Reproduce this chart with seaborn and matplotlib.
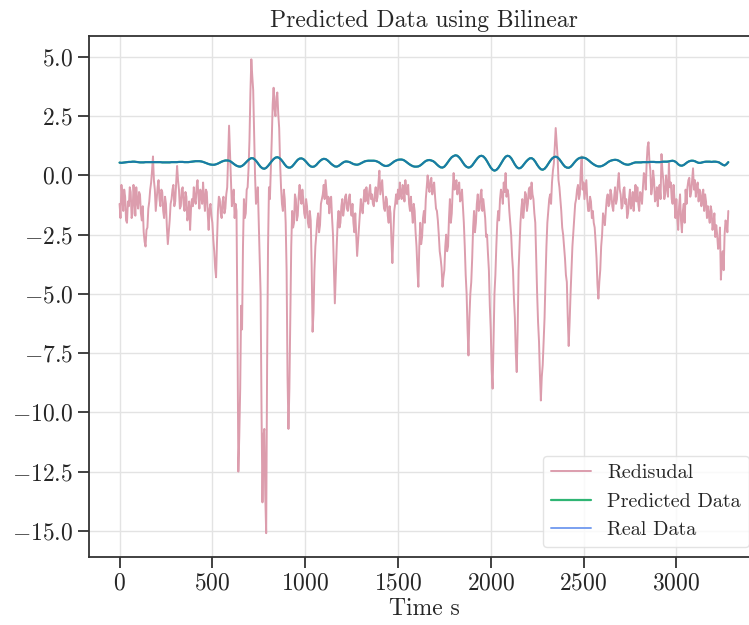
import numpy as np
import pandas as pd
import seaborn as sns
import matplotlib.pyplot as plt

# residual (real - predicted) at t = 0, 10, 20, ...
residual = [
    -1.2, -0.4, -1.5, -0.9, -2.0, -1.3, -0.7, -1.6, -1.0, -0.5,
    -1.4, -0.8, -1.9, -2.4, -3.0, -2.2, -1.1, -0.3, 0.8, -0.6,
    -1.0, -0.2, -1.3, -0.7, -1.8, -1.2, -2.9, -1.9, -1.0, -0.4,
    -1.1, 0.4, -0.6, -1.3, -0.5, -1.5, -0.9, -1.7, -2.3, -1.0,
    -0.5, -1.2, -0.2, -1.4, -0.8, -0.3, -1.5, -0.7, -2.3, -1.2,
    -2.0, -3.2, -4.3, -1.5, -1.0, -1.8, -0.9, -1.4, -0.5, 2.1,
    0.0, -1.0, -1.8, -1.5, -12.5, -9.0, -6.5, -1.0, -1.6, -0.5,
    1.5, 4.9, 3.6, 0.0, -1.0, -2.0, -5.0, -13.8, -10.7, -15.1,
    -3.0, -1.0, 1.5, 3.7, 2.5, 3.5, 2.0, -0.5, -1.5, -1.0,
    -4.0, -10.7, -6.0, -1.5, -2.0, -1.0, -1.7, -0.4, -1.2, -1.0,
    -1.8, -1.3, -2.2, -1.9, -6.6, -4.0, -2.5, -1.6, -2.1, -1.0,
    -0.4, -0.2, -1.2, -1.6, -0.9, -2.5, -5.4, -3.0, -1.5, -2.0,
    -1.0, -1.4, -0.8, -1.5, -0.8, -1.7, -2.0, -1.6, -3.4, -2.2,
    -1.0, -1.6, -0.6, -0.5, -1.2, -0.4, -0.8, -1.3, -0.5, -0.9,
    0.2, -0.5, -0.9, -1.5, -1.0, -2.0, -1.6, -3.7, -1.5, -0.8,
    -0.6, -0.3, -1.0, -0.5, -0.2, -0.8, -1.2, -0.9, -2.0, -1.5,
    -3.0, -4.7, -2.0, -2.6, -1.5, -1.0, 0.0, -0.7, -0.1, -0.5,
    -0.9, -1.5, -2.5, -3.5, -4.7, -4.0, -2.5, -3.0, -1.0, -1.6,
    0.1, -0.5, -0.8, -0.3, -1.0, -1.3, -3.0, -5.0, -7.6, -5.0,
    -3.5, -1.5, -2.0, -0.8, -1.4, -0.6, -1.0, -1.8, -2.5, -4.0,
    -6.5, -9.0, -5.0, -3.0, -1.5, -1.0, -0.8, -0.3, 0.1, -0.6,
    -1.5, -2.5, -4.0, -6.0, -8.3, -4.0, -2.0, -1.0, -1.4, -0.8,
    -1.2, -0.5, -0.3, -1.0, -2.0, -5.0, -7.0, -9.5, -8.0, -6.0,
    -3.0, -1.5, -0.8, -0.3, 0.5, 2.0, 0.8, -0.5, -1.5, -2.5,
    -3.5, -4.5, -7.2, -5.0, -3.0, -1.8, -1.0, -0.4, -0.8, 0.8,
    -0.3, -0.6, -1.0, -1.5, -1.1, -1.5, -2.2, -3.5, -5.2, -4.0,
    -2.5, -1.8, -1.5, -0.8, -1.2, -0.8, -1.5, -0.5, -1.0, 0.1,
    -0.8, -1.3, -0.5, -1.0, -1.6, -0.6, -1.2, -1.5, -0.4, -0.5,
    -1.5, -0.8, -0.5, 0.0, 0.5, 1.4, 0.2, -0.5, -0.2, -1.0,
    -1.3, -0.4, 0.9, -0.2, -0.8, -0.5, 0.5, -0.3, -1.2, -1.0,
    -1.0, -2.3, -0.8, -2.4, -1.2, -0.6, -0.5, -0.1, -0.7, 0.3,
    -0.2, -0.5, -1.1, -0.7, -1.0, -1.5, -1.1, -1.3, -2.0, -1.5,
    -2.0, -2.6, -2.5, -3.0, -4.4, -3.2, -2.5, -2.0, -1.5,
]

# residual samples in between (t = 5, 15, 25, ...), the noisy band
residual_mid = [
    -1.8, -0.9, -0.6, -1.9, -1.1, -0.5, -1.8, -0.4, -1.7, -1.1,
    -0.7, -1.6, -1.3, -2.8, -2.3, -1.4, -0.6, 0.2, -0.2, -1.5,
    -0.5, -1.0, -0.6, -1.5, -0.9, -2.2, -2.4, -1.2, -0.6, -1.3,
    -0.3, -0.2, -1.4, -0.6, -1.2, -0.7, -1.9, -1.1, -1.4, -1.3,
    -1.0, -0.5, -0.9, -0.6, -1.2, -1.0, -0.6, -1.6, -1.4, -1.7,
    -2.7, -3.9, -2.8, -0.9, -1.6, -1.1, -1.6, -0.8, 0.8, 1.0,
    -1.3, -0.6, -1.2, -6.0, -11.0, -5.5, -3.0, -1.8, -0.6, 0.3,
    3.5, 4.2, 1.8, -1.2, -0.5, -3.5, -10.0, -11.0, -13.5, -8.0,
    -0.5, 0.2, 3.0, 2.8, 3.3, 2.6, 0.5, -1.2, -0.6, -2.0,
    -8.5, -9.0, -3.0, -2.2, -0.8, -1.9, -0.9, -1.0, -0.6, -1.6,
    -1.0, -2.0, -1.5, -3.8, -5.8, -3.0, -1.9, -2.4, -1.2, -0.8,
    -1.0, -0.7, -0.9, -1.0, -1.8, -4.0, -4.2, -2.0, -2.2, -1.3,
    -1.7, -0.9, -1.4, -1.0, -1.4, -1.2, -2.4, -2.5, -2.8, -1.6,
    -1.4, -1.0, -1.1, -0.9, -0.7, -1.0, -1.2, -0.8, -1.1, -0.3,
    -0.8, -0.2, -1.4, -0.9, -1.7, -1.3, -2.8, -2.5, -1.2, -1.2,
    -1.0, -0.8, -0.4, -1.1, -0.7, -0.4, -1.5, -1.5, -1.2, -2.4,
    -4.0, -3.0, -2.9, -1.8, -2.0, -0.5, -0.5, -0.2, -0.8, -0.3,
    -1.4, -1.9, -3.2, -3.9, -4.3, -3.0, -3.2, -1.8, -2.0, -0.6,
    -0.6, -0.2, -0.5, -1.1, -0.6, -2.0, -4.2, -6.5, -6.0, -4.5,
    -2.2, -2.4, -1.2, -1.5, -0.8, -1.5, -1.4, -2.6, -3.3, -5.5,
    -8.2, -7.0, -4.2, -2.0, -1.9, -0.6, -1.2, -0.7, -0.9, -0.8,
    -2.0, -3.4, -5.2, -7.5, -6.5, -3.0, -1.4, -1.8, -0.7, -1.5,
    -0.6, -1.0, -0.8, -1.6, -3.5, -6.2, -8.4, -8.5, -7.0, -4.4,
    -2.0, -1.0, -1.2, 0.2, 1.2, 1.4, -0.2, -1.0, -2.2, -3.0,
    -4.2, -6.0, -6.2, -4.0, -2.4, -1.2, -0.6, -1.0, 0.2, -0.6,
    -1.0, -0.2, -1.5, -0.9, -1.8, -2.0, -2.8, -4.6, -4.5, -3.0,
    -1.6, -2.1, -1.0, -1.3, -0.6, -1.3, -0.9, -1.2, -0.3, -0.6,
    -1.4, -0.6, -1.2, -1.8, -1.0, -1.4, -0.7, -0.8, -1.1, -1.2,
    -0.7, -1.2, 0.1, -0.6, 1.2, 0.6, -0.8, 0.2, -1.1, -0.5,
    -0.6, -1.0, 0.2, -1.0, 0.0, -0.9, -0.5, -1.0, -0.4, -1.8,
    -1.8, -1.3, -1.9, -1.5, -2.0, -1.2, -0.2, -0.9, -0.2, -0.6,
    -0.9, -0.3, -0.6, -1.3, -0.6, -0.8, -1.8, -1.7, -1.3, -2.3,
    -1.6, -2.1, -3.1, -2.2, -3.6, -4.0, -1.9, -2.4,
]

# predicted data at t = 0, 10, 20, ...
predicted = [
    0.54, 0.53, 0.54, 0.55, 0.56, 0.57, 0.57, 0.58, 0.58, 0.57,
    0.56, 0.55, 0.55, 0.55, 0.56, 0.56, 0.56, 0.56, 0.56, 0.56,
    0.56, 0.56, 0.56, 0.55, 0.55, 0.55, 0.55, 0.55, 0.56, 0.56,
    0.56, 0.56, 0.57, 0.57, 0.57, 0.56, 0.56, 0.56, 0.57, 0.58,
    0.59, 0.60, 0.60, 0.60, 0.59, 0.57, 0.54, 0.51, 0.48, 0.46,
    0.45, 0.45, 0.47, 0.50, 0.54, 0.58, 0.61, 0.63, 0.63, 0.62,
    0.58, 0.52, 0.46, 0.41, 0.38, 0.37, 0.40, 0.46, 0.54, 0.62,
    0.69, 0.73, 0.72, 0.66, 0.57, 0.46, 0.36, 0.30, 0.28, 0.32,
    0.40, 0.50, 0.60, 0.69, 0.75, 0.77, 0.74, 0.67, 0.57, 0.46,
    0.37, 0.33, 0.33, 0.38, 0.47, 0.57, 0.66, 0.71, 0.72, 0.69,
    0.62, 0.53, 0.44, 0.38, 0.36, 0.38, 0.44, 0.53, 0.61, 0.67,
    0.70, 0.69, 0.64, 0.57, 0.49, 0.43, 0.38, 0.37, 0.40, 0.46,
    0.52, 0.57, 0.59, 0.58, 0.56, 0.52, 0.48, 0.46, 0.45, 0.47,
    0.51, 0.55, 0.59, 0.61, 0.62, 0.62, 0.62, 0.62, 0.61, 0.58,
    0.54, 0.48, 0.43, 0.40, 0.40, 0.42, 0.47, 0.53, 0.59, 0.63,
    0.66, 0.67, 0.67, 0.65, 0.60, 0.54, 0.48, 0.43, 0.39, 0.37,
    0.37, 0.38, 0.42, 0.48, 0.55, 0.61, 0.64, 0.65, 0.63, 0.60,
    0.54, 0.46, 0.39, 0.34, 0.33, 0.37, 0.46, 0.57, 0.68, 0.77,
    0.82, 0.85, 0.83, 0.76, 0.66, 0.54, 0.43, 0.36, 0.33, 0.35,
    0.42, 0.53, 0.64, 0.74, 0.81, 0.83, 0.80, 0.72, 0.60, 0.46,
    0.33, 0.24, 0.20, 0.23, 0.31, 0.43, 0.56, 0.69, 0.79, 0.83,
    0.81, 0.73, 0.60, 0.46, 0.35, 0.30, 0.31, 0.38, 0.48, 0.58,
    0.66, 0.72, 0.73, 0.68, 0.58, 0.45, 0.34, 0.26, 0.24, 0.28,
    0.37, 0.49, 0.61, 0.71, 0.77, 0.79, 0.76, 0.68, 0.57, 0.46,
    0.37, 0.33, 0.32, 0.36, 0.44, 0.54, 0.63, 0.70, 0.74, 0.75,
    0.75, 0.73, 0.68, 0.62, 0.55, 0.49, 0.44, 0.40, 0.38, 0.38,
    0.40, 0.44, 0.49, 0.55, 0.60, 0.63, 0.65, 0.66, 0.65, 0.62,
    0.57, 0.52, 0.48, 0.46, 0.45, 0.47, 0.50, 0.53, 0.55, 0.55,
    0.55, 0.55, 0.56, 0.56, 0.56, 0.56, 0.57, 0.57, 0.57, 0.56,
    0.56, 0.56, 0.57, 0.58, 0.58, 0.58, 0.59, 0.61, 0.62, 0.60,
    0.55, 0.47, 0.42, 0.41, 0.44, 0.50, 0.56, 0.60, 0.62, 0.62,
    0.60, 0.56, 0.53, 0.53, 0.55, 0.57, 0.58, 0.58, 0.58, 0.57,
    0.58, 0.58, 0.57, 0.55, 0.50, 0.45, 0.42, 0.47, 0.56,
]

# the real-data trace sits right on top of the prediction in the picture
real_data = predicted

time_s = np.arange(len(predicted)) * 10

# residual on a 5 s grid: main samples interleaved with the in-between ones
res_full = []
for i, v in enumerate(residual):
    res_full.append(v)
    if i < len(residual_mid):
        res_full.append(residual_mid[i])
res_time = np.arange(len(res_full)) * 5

df_res = pd.DataFrame({"time": res_time, "res": res_full})
df = pd.DataFrame({"time": time_s, "pred": predicted, "real": real_data})

sns.set_theme(style="ticks")
plt.rcParams["font.family"] = "serif"
plt.rcParams["font.serif"] = ["cmr10", "DejaVu Serif"]
plt.rcParams["mathtext.fontset"] = "cm"
plt.rcParams["axes.formatter.use_mathtext"] = True

res_color = "#dc9dad"
pred_color = "#2fb574"
real_color = "#1a78aa"

fig = plt.figure(figsize=(7.49, 6.25), dpi=100)
ax = fig.add_axes([0.119, 0.109, 0.894, 0.834])

sns.lineplot(data=df_res, x="time", y="res", ax=ax, color=res_color,
             lw=1.4, label="Redisudal")
sns.lineplot(data=df, x="time", y="pred", ax=ax, color=pred_color,
             lw=1.6, label="Predicted Data")
sns.lineplot(data=df, x="time", y="real", ax=ax, color=real_color,
             lw=1.4, label="Real Data")

ax.grid(True, color="#e3e3e3", lw=1)
ax.set_axisbelow(True)
for sp in ax.spines.values():
    sp.set_visible(True)
    sp.set_color("#333333")
    sp.set_linewidth(1.3)
ax.tick_params(length=8, width=1.3, labelsize=17, color="#333333")

ax.set_xticks([0, 500, 1000, 1500, 2000, 2500, 3000])
ax.set_title("Predicted Data using Bilinear", fontsize=17)
ax.set_xlabel("Time s", fontsize=17, labelpad=2)
ax.set_ylabel("")

leg = ax.legend(loc="lower right", fontsize=14.5, frameon=True)
leg.get_frame().set_edgecolor("#dddddd")
leg.get_lines()[2].set_color("#7aa0f0")
leg.get_lines()[1].set_color(pred_color)

plt.savefig("out.png", dpi=100)
